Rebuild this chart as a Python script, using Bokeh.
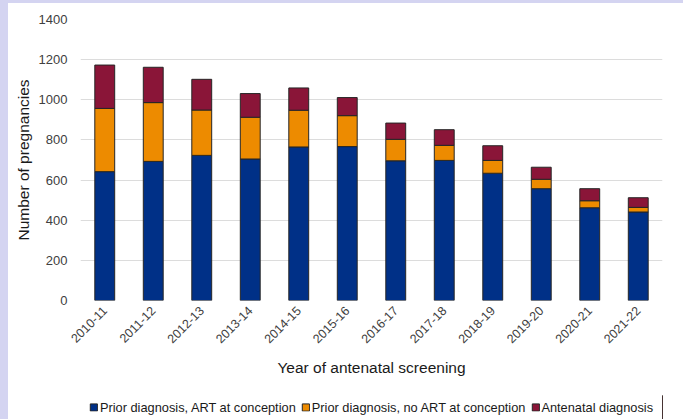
import math
from bokeh.plotting import figure
from bokeh.layouts import column
from bokeh.models import Legend, LegendItem, FactorRange, Range1d, FixedTicker
from bokeh.embed import file_html
from bokeh.resources import INLINE

years = ["2010-11", "2011-12", "2012-13", "2013-14", "2014-15", "2015-16",
         "2016-17", "2017-18", "2018-19", "2019-20", "2020-21", "2021-22"]
art_at_conception = [642, 693, 723, 705, 765, 767, 696, 698, 634, 557, 462, 441]
no_art_at_conception = [315, 293, 226, 208, 183, 154, 107, 75, 64, 47, 35, 23]
antenatal_diagnosis = [216, 176, 153, 118, 111, 90, 81, 78, 73, 60, 60, 48]
series_names = ["Prior diagnosis, ART at conception",
                "Prior diagnosis, no ART at conception",
                "Antenatal diagnosis"]
y_ticks = [0, 200, 400, 600, 800, 1000, 1200, 1400]

colors = ["#003087", "#ED8B00", "#8A1538"]
keys = ["art", "noart", "ante"]
data = dict(years=years, art=art_at_conception, noart=no_art_at_conception,
            ante=antenatal_diagnosis)

FONT = "Liberation Sans"
W = 675

p = figure(x_range=FactorRange(*years), y_range=Range1d(0, 1400),
           width=W, height=392,
           output_backend="svg", toolbar_location=None,
           min_border_left=72, min_border_right=21, min_border_top=16,
           min_border_bottom=95)

rs = p.vbar_stack(keys, x="years", width=0.41, source=data, color=colors,
                  line_color="#262626", line_width=1)

p.outline_line_color = None
p.background_fill_color = "white"
p.border_fill_color = "white"

p.xgrid.grid_line_color = None
p.ygrid.grid_line_color = "#dcdcdc"
p.ygrid.grid_line_width = 1
p.yaxis.ticker = FixedTicker(ticks=y_ticks)

for ax in (p.xaxis[0], p.yaxis[0]):
    ax.axis_line_color = None
    ax.major_tick_line_color = None
    ax.minor_tick_line_color = None
    ax.major_tick_out = 0
    ax.major_tick_in = 0
    ax.minor_tick_out = 0
    ax.major_label_text_font = FONT
    ax.major_label_text_color = "#404040"
    ax.axis_label_text_font = FONT
    ax.axis_label_text_font_style = "normal"
    ax.axis_label_text_color = "#1a1a1a"
    ax.axis_label_text_font_size = "15.5px"

p.yaxis.major_label_text_font_size = "13px"
p.yaxis.axis_label = "Number of pregnancies"
p.yaxis.axis_label_standoff = 4
p.yaxis.major_label_standoff = 13

p.xaxis.major_label_text_font_size = "12.5px"
p.xaxis.major_label_orientation = math.pi / 4
p.xaxis.major_label_standoff = 8
p.xaxis.axis_label = "Year of antenatal screening"
p.xaxis.axis_label_standoff = 9

# legend strip under the chart
lg = figure(width=W, height=24, x_range=Range1d(0, 1), y_range=Range1d(0, 1),
            output_backend="svg", toolbar_location=None,
            x_axis_location=None, y_axis_location=None,
            min_border_left=72, min_border_right=21, min_border_top=0, min_border_bottom=0)
lg.outline_line_color = None
lg.xgrid.grid_line_color = None
lg.ygrid.grid_line_color = None
lg.background_fill_color = "white"
lg.border_fill_color = "white"
dummies = [lg.vbar(x=[5], top=[1], width=0.4, fill_color=c, line_color="#262626", line_width=1)
           for c in colors]
legend = Legend(items=[LegendItem(label=n, renderers=[r]) for n, r in zip(series_names, dummies)],
                orientation="horizontal", location="center",
                label_text_font=FONT, label_text_font_size="12.8px",
                label_text_color="#1a1a1a",
                glyph_width=9, glyph_height=9, label_standoff=2, spacing=5,
                padding=2, margin=0, border_line_color=None,
                background_fill_alpha=0, label_height=14)
lg.add_layout(legend)

layout = column(p, lg, spacing=0)

html = file_html(layout, INLINE)
style = ("<style>html{background:#ffffff !important;}"
         "body{background:#ffffff !important;margin:0 !important;padding:0 !important;"
         "border-left:8px solid #d4d4f1 !important;border-top:3px solid #d4d4f1 !important;"
         "box-sizing:border-box !important;}</style>")
html = html.replace("</head>", style + "</head>", 1)
open("out.html", "w").write(html)
